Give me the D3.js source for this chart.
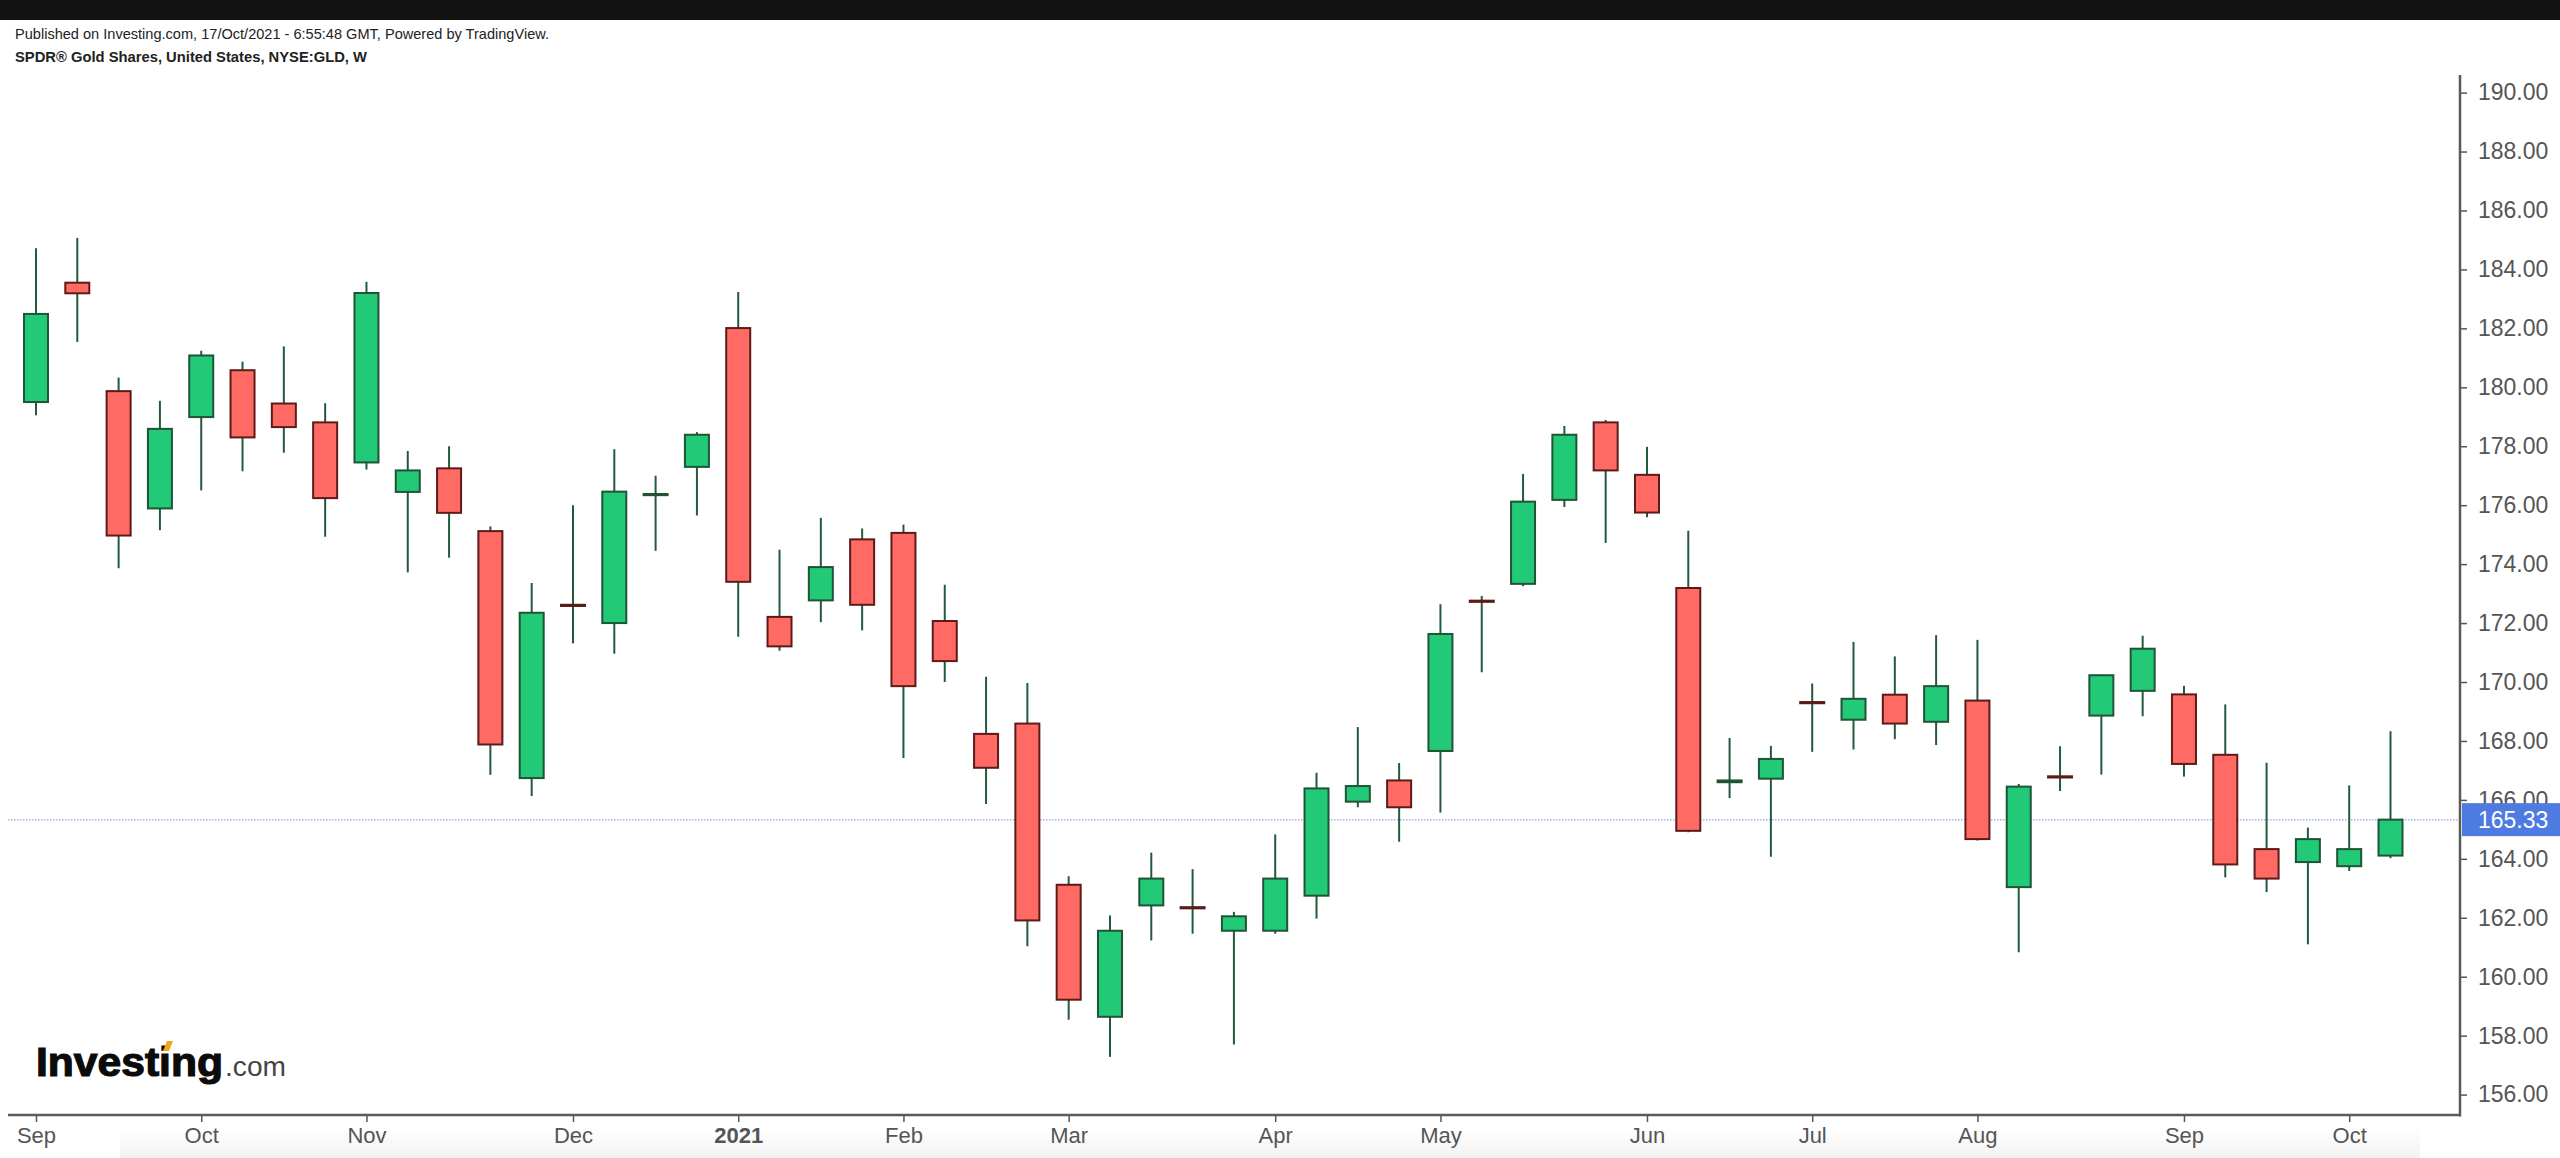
<!DOCTYPE html>
<html>
<head>
<meta charset="utf-8">
<script src="https://cdn.jsdelivr.net/npm/d3@7"></script>
<style>
  html, body { margin: 0; padding: 0; background: #ffffff; }
  svg { display: block; }
  text { font-family: "Liberation Sans", Arial, Helvetica, sans-serif; }
</style>
</head>
<body>
<div id="chart"></div>
<script>
// ---- Data (weekly candles, SPDR Gold Shares GLD) ----
const startWeek = "2020-09-07";           // first weekly bar
const opens  = [179.50,183.55,179.87,175.89,178.99,180.58,179.45,178.81,177.45,176.45,177.25,175.12,166.74,172.62,172.00,176.34,177.30,182.01,172.21,172.77,174.84,175.06,172.07,168.24,168.59,163.12,158.64,162.42,162.36,161.56,161.56,162.75,165.94,166.66,167.66,172.76,173.33,176.18,178.81,177.03,173.19,166.60,166.72,169.32,168.72,169.57,168.65,169.37,163.04,166.80,168.86,169.70,169.58,167.53,164.33,163.89,163.75,164.11];
const highs  = [184.72,185.07,180.33,179.54,181.24,180.87,181.39,179.46,183.58,177.84,178.00,175.28,173.36,176.00,177.90,177.00,178.48,183.23,174.49,175.57,175.21,175.34,173.30,170.18,169.97,163.41,162.08,164.21,163.65,162.20,164.83,166.92,168.47,167.25,172.64,172.92,177.06,178.69,178.89,177.98,175.13,168.10,167.83,169.95,171.36,170.87,171.59,171.43,166.54,167.82,170.25,171.57,169.87,169.24,167.26,165.06,166.49,168.33];
const lows   = [179.05,181.54,173.86,175.15,176.50,177.15,177.78,174.93,177.21,173.72,174.22,166.85,166.13,171.31,170.96,174.45,175.65,171.54,171.06,172.03,171.75,167.42,170.00,165.86,161.03,158.54,157.28,161.23,161.46,157.70,161.46,161.97,165.75,164.58,165.57,170.33,173.25,175.94,174.72,175.59,164.90,166.06,164.07,167.63,167.71,168.06,167.86,164.62,160.83,166.30,166.86,168.84,166.79,163.37,162.87,161.10,163.59,164.02];
const closes = [182.49,183.19,174.97,178.59,181.08,178.30,178.65,176.24,183.20,177.18,175.74,167.88,172.35,172.58,176.46,176.38,178.39,173.40,171.21,173.90,172.62,169.86,170.71,167.09,161.91,159.22,161.56,163.33,162.32,162.05,163.33,166.39,166.47,165.75,171.63,172.72,176.12,178.39,177.18,175.75,164.95,166.66,167.39,169.28,169.43,168.59,169.86,164.67,166.45,166.76,170.23,171.13,167.22,163.81,163.33,164.67,164.33,165.33];
const lastPrice = 165.33;

const xTickDates  = ["2020-09-07","2020-10-05","2020-11-02","2020-12-07","2021-01-04","2021-02-01","2021-03-01","2021-04-05","2021-05-03","2021-06-07","2021-07-05","2021-08-02","2021-09-06","2021-10-04"];
const xTickLabels = ["Sep","Oct","Nov","Dec","2021","Feb","Mar","Apr","May","Jun","Jul","Aug","Sep","Oct"];
const yTicks = [156,158,160,162,164,166,168,170,172,174,176,178,180,182,184,186,188,190];

const headerLine1 = "Published on Investing.com, 17/Oct/2021 - 6:55:48 GMT, Powered by TradingView.";
const headerLine2 = "SPDR\u00AE Gold Shares, United States, NYSE:GLD, W";

// ---- Layout ----
const W = 2560, H = 1158;
const plotRight = 2460, plotTop = 75, plotBottom = 1115;

const parse = d3.utcParse("%Y-%m-%d");
const d0 = parse(startWeek);
const dates = opens.map((_, i) => d3.utcWeek.offset(d0, i));
const candles = dates.map((d, i) => ({date: d, o: opens[i], h: highs[i], l: lows[i], c: closes[i]}));

const x = d3.scaleUtc()
  .domain([dates[0], dates[dates.length - 1]])
  .range([36, 2390.5]);
const y = d3.scaleLinear().domain([156, 190]).range([1094.6, 92.6]);

const svg = d3.select("#chart").append("svg")
  .attr("width", W).attr("height", H)
  .attr("viewBox", `0 0 ${W} ${H}`);

// background
svg.append("rect").attr("width", W).attr("height", H).attr("fill", "#ffffff");

// subtle bottom shading
const defs = svg.append("defs");
const gV = defs.append("linearGradient").attr("id", "bottomShade").attr("x1", 0).attr("x2", 0).attr("y1", 0).attr("y2", 1);
gV.append("stop").attr("offset", "0%").attr("stop-color", "#ffffff");
gV.append("stop").attr("offset", "100%").attr("stop-color", "#f2f2f2");
svg.append("rect").attr("x", 120).attr("y", 1128).attr("width", 2300).attr("height", 30).attr("fill", "url(#bottomShade)");

// top black bar
svg.append("rect").attr("x", 0).attr("y", 0).attr("width", W).attr("height", 20).attr("fill", "#121212");

// header texts
svg.append("text").attr("x", 15).attr("y", 39)
  .attr("font-size", 15).attr("fill", "#222")
  .attr("textLength", 534).attr("lengthAdjust", "spacingAndGlyphs")
  .text(headerLine1);
svg.append("text").attr("x", 15).attr("y", 62)
  .attr("font-size", 15).attr("font-weight", "bold").attr("fill", "#222")
  .attr("textLength", 352).attr("lengthAdjust", "spacingAndGlyphs")
  .text(headerLine2);

// price line (dotted)
svg.append("line")
  .attr("x1", 8).attr("x2", plotRight)
  .attr("y1", y(lastPrice)).attr("y2", y(lastPrice))
  .attr("stroke", "#9fb3f2").attr("stroke-width", 1.5)
  .attr("stroke-dasharray", "1.5,1.5");

// candles
const greenFill = "#22c976", greenBorder = "#1f5436";
const redFill = "#ff6b64", redBorder = "#5c1b18";
const wickColor = "#245a3c";
const bodyW = 24;

const g = svg.append("g").attr("class", "candles");
g.selectAll("line.wick").data(candles).join("line")
  .attr("class", "wick")
  .attr("x1", d => x(d.date)).attr("x2", d => x(d.date))
  .attr("y1", d => y(d.h)).attr("y2", d => y(d.l))
  .attr("stroke", wickColor).attr("stroke-width", 2);

g.selectAll("rect.body").data(candles).join("rect")
  .attr("class", "body")
  .attr("x", d => x(d.date) - bodyW / 2)
  .attr("width", bodyW)
  .attr("y", d => y(Math.max(d.o, d.c)))
  .attr("height", d => Math.max(1, Math.abs(y(d.o) - y(d.c))))
  .attr("fill", d => d.c >= d.o ? greenFill : redFill)
  .attr("stroke", d => d.c >= d.o ? greenBorder : redBorder)
  .attr("stroke-width", 2);

// Y axis (right)
const yAxis = d3.axisRight(y).tickValues(yTicks).tickFormat(d3.format(".2f")).tickSize(7).tickPadding(11);
const yg = svg.append("g").attr("transform", `translate(${plotRight},0)`).call(yAxis);
yg.select(".domain").remove();
yg.selectAll(".tick line").attr("stroke", "#555").attr("stroke-width", 1.5);
yg.selectAll(".tick text").attr("fill", "#555").attr("font-size", 23)
  .attr("font-family", "'Liberation Sans', Arial, sans-serif");

// X axis
const xAxis = d3.axisBottom(x)
  .tickValues(xTickDates.map(parse))
  .tickFormat((d, i) => xTickLabels[i])
  .tickSize(7).tickPadding(5);
const xg = svg.append("g").attr("transform", `translate(0,${plotBottom})`).call(xAxis);
xg.select(".domain").remove();
xg.selectAll(".tick line").attr("stroke", "#555").attr("stroke-width", 1.5);
xg.selectAll(".tick text").attr("fill", "#555").attr("font-size", 22)
  .attr("font-family", "'Liberation Sans', Arial, sans-serif")
  .attr("font-weight", (d, i) => xTickLabels[i] === "2021" ? "bold" : "normal");

// frame lines
svg.append("line").attr("x1", plotRight).attr("x2", plotRight).attr("y1", plotTop).attr("y2", plotBottom + 1.5)
  .attr("stroke", "#5a5a5a").attr("stroke-width", 2.5);
svg.append("line").attr("x1", 8).attr("x2", plotRight).attr("y1", plotBottom).attr("y2", plotBottom)
  .attr("stroke", "#5a5a5a").attr("stroke-width", 2.5);

// last price label
const py = y(lastPrice);
svg.append("rect").attr("x", plotRight + 2).attr("y", py - 16.5).attr("width", W - plotRight - 2).attr("height", 33)
  .attr("fill", "#4e7be2");
svg.append("text").attr("x", plotRight + 18).attr("y", py).attr("dy", "0.35em")
  .attr("font-size", 23).attr("fill", "#ffffff")
  .text(d3.format(".2f")(lastPrice));

// Investing.com logo
const logo = svg.append("g");
logo.append("text").attr("x", 36).attr("y", 1076)
  .attr("font-size", 40).attr("font-weight", "bold").attr("fill", "#0b0b0b")
  .attr("stroke", "#0b0b0b").attr("stroke-width", 1.2)
  .attr("textLength", 187).attr("lengthAdjust", "spacingAndGlyphs")
  .text("Investing");
logo.append("text").attr("x", 225).attr("y", 1076)
  .attr("font-size", 27).attr("fill", "#444")
  .attr("textLength", 61).attr("lengthAdjust", "spacingAndGlyphs")
  .text(".com");
logo.append("path")
  .attr("d", "M163,1051 L167,1041 L173,1041 L169,1051 Z")
  .attr("fill", "#f7a21b");
</script>
</body>
</html>
